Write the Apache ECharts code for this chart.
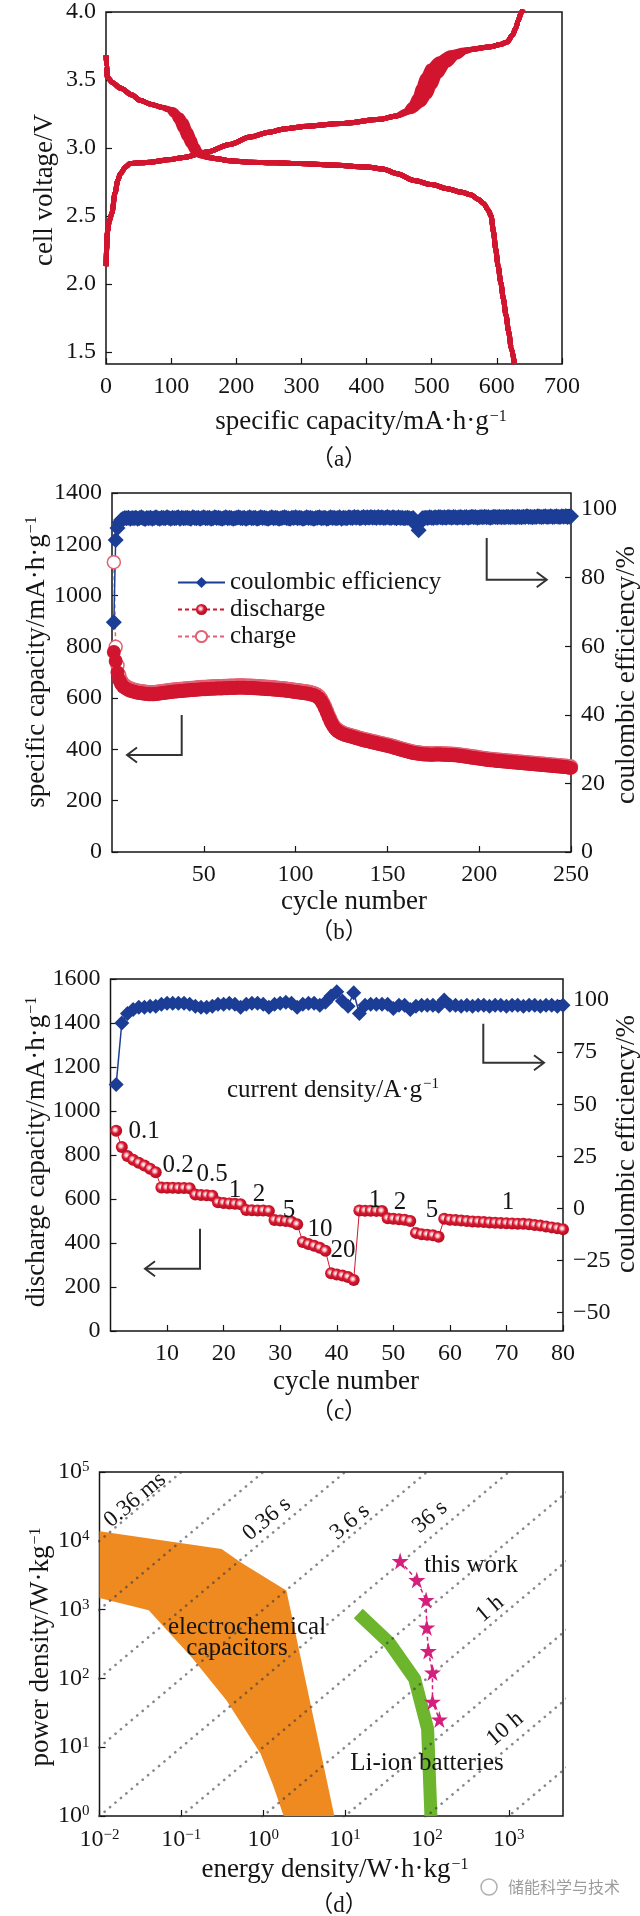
<!DOCTYPE html>
<html><head><meta charset="utf-8">
<script src="https://cdn.jsdelivr.net/npm/echarts@6/dist/echarts.min.js"></script>
<style>html,body{margin:0;padding:0;background:#fff}#c{width:640px;height:1916px}</style>
</head><body><div id="c"></div><script>
// ---------- (a) charge/discharge profiles: [capacity mAh/g, voltage V] ----------
const dchHead = [[0,3.68],[1,3.6],[2,3.52],[10,3.48],[22,3.44],[40,3.39],[52,3.35],[70,3.32],[85,3.30]];
const dchBandA = [[95,3.28],[103,3.24],[108,3.2],[115,3.13],[121,3.07],[127,3.02],[133,2.975],[142,2.945],[155,2.93]];
const dchBandAB = [[96.5,3.28],[105,3.24],[110.5,3.2],[117.5,3.13],[123.5,3.07],[129,3.02],[135,2.975],[143.5,2.945],[156,2.93]];
const dchBandB = [[98,3.28],[107,3.24],[113,3.2],[120,3.13],[126,3.07],[131,3.02],[137,2.975],[145,2.945],[157,2.93]];
const dchBandBC = [[99.5,3.28],[109,3.24],[115,3.2],[122,3.13],[128,3.07],[133,3.02],[139,2.975],[146.5,2.945],[158,2.93]];
const dchBandC = [[101,3.28],[111,3.24],[117,3.2],[124,3.13],[130,3.07],[135,3.02],[141,2.975],[148,2.945],[159,2.93]];
const dchBandCD = [[102.5,3.28],[113,3.24],[119.5,3.2],[126.5,3.13],[132.5,3.07],[137,3.02],[143,2.975],[149.5,2.947],[160,2.931]];
const dchBandD = [[104,3.28],[115,3.24],[122,3.2],[129,3.13],[135,3.07],[139,3.02],[145,2.975],[151,2.95],[161,2.932]];
const dchTail = [[170,2.92],[190,2.905],[221,2.895],[260,2.89],[298,2.885],[345,2.875],[400,2.86],[425,2.845],[447,2.81],[473,2.76],[500,2.73],[524,2.70],[545,2.675],[560,2.655],[572,2.62],[580,2.59],[587,2.54],[591,2.50],[595,2.38],[598,2.26],[602,2.13],[606,2.01],[610,1.89],[614,1.77],[618,1.65],[622,1.53],[627,1.41]];
const chgHead = [[0,2.13],[1,2.25],[2,2.38],[5,2.46],[9,2.52],[14,2.67],[18,2.76],[22,2.81],[30,2.86],[37,2.885],[68,2.895],[100,2.915],[119,2.93],[155,2.97],[190,3.025],[221,3.08],[250,3.115],[273,3.14],[310,3.16],[360,3.18],[421,3.21],[445,3.235]];
const chgBandA = [[459,3.27],[468,3.32],[475,3.38],[480,3.45],[487,3.53],[496,3.60],[510,3.655],[528,3.70],[550,3.72]];
const chgBandAB = [[461,3.27],[471,3.32],[478.5,3.38],[484,3.45],[491.5,3.53],[501.5,3.603],[516,3.657],[533,3.70],[552.5,3.721]];
const chgBandB = [[463,3.27],[474,3.32],[482,3.38],[488,3.45],[496,3.53],[507,3.605],[522,3.66],[538,3.70],[555,3.722]];
const chgBandBC = [[465,3.27],[477,3.32],[485.5,3.38],[492,3.45],[500,3.53],[511.5,3.607],[526.5,3.662],[542,3.702],[557.5,3.723]];
const chgBandC = [[467,3.27],[480,3.32],[489,3.38],[496,3.45],[504,3.53],[516,3.61],[531,3.665],[546,3.705],[560,3.725]];
const chgBandCD = [[469,3.27],[483,3.32],[492.5,3.38],[500,3.45],[508,3.53],[520.5,3.61],[535.5,3.667],[549.5,3.707],[562.5,3.726]];
const chgBandD = [[471,3.27],[486,3.32],[496,3.38],[504,3.45],[512,3.53],[525,3.61],[540,3.67],[553,3.71],[565,3.728]];
const chgTail = [[591,3.745],[605,3.76],[616,3.78],[624,3.83],[629,3.88],[633,3.94],[637,3.99],[640,4.02]];
const aVoltTicks = [1.5,2.0,2.5,3.0,3.5,4.0];

// ---------- (b) long cycling, values per cycle 1..250 ----------
const bDischarge = [
780,745,700,670,655,645,640,636,632,629, 627,625,623,621,620,619,618,617,616,615,
615,615,615,616,617,618,619,620,621,622, 623,624,625,626,626,627,628,628,629,630,
630,631,632,632,633,633,634,634,635,635, 635,636,636,637,637,637,638,638,638,638,
639,639,639,640,640,640,640,641,641,641, 641,641,640,640,640,640,639,639,638,638,
637,637,636,636,635,635,634,634,633,633, 632,631,631,630,629,628,627,626,625,624,
623,622,621,620,619,618,617,615,613,611, 608,604,598,588,575,560,543,526,510,496,
485,477,471,466,462,459,456,454,452,450, 448,446,444,442,440,438,436,434,433,431,
429,427,426,424,422,420,419,417,415,414, 412,410,408,406,404,402,400,398,396,394,
392,390,388,386,385,384,383,382,381,380, 380,380,379,379,379,380,380,380,380,379,
379,379,378,378,378,377,377,376,375,374, 373,372,371,370,369,368,367,366,365,364,
363,362,361,360,359,358,358,357,356,355, 355,354,353,353,352,351,351,350,349,349,
348,347,347,346,345,345,344,343,343,342, 341,341,340,339,339,338,337,337,336,335,
335,334,333,333,332,331,331,330,329,328];
const bCharge = [
1130,800,728,690,668,656,650,645,641,638, 635,633,631,629,628,627,626,625,624,623,
623,623,623,624,625,626,627,628,629,630, 631,632,633,634,634,635,636,636,637,638,
638,639,640,640,641,641,642,642,643,643, 643,644,644,645,645,645,646,646,646,646,
647,647,647,648,648,648,648,649,649,649, 649,649,648,648,648,648,647,647,646,646,
645,645,644,644,643,643,642,642,641,641, 640,639,639,638,637,636,635,634,633,632,
631,630,629,628,627,626,625,623,621,619, 616,612,606,596,583,568,551,534,518,503,
491,483,477,472,468,464,461,459,457,455, 453,451,449,447,445,443,441,439,438,436,
434,432,431,429,427,425,424,422,420,419, 417,415,413,411,409,407,405,403,401,399,
397,395,393,391,390,389,388,387,386,385, 385,385,384,384,384,385,385,385,385,384,
384,384,383,383,383,382,382,381,380,379, 378,377,376,375,374,373,372,371,370,369,
368,367,366,365,364,363,363,362,361,360, 360,359,358,358,357,356,356,355,354,354,
353,352,352,351,350,350,349,348,348,347, 346,346,345,344,344,343,342,342,341,340,
340,339,338,338,337,336,336,335,334,333];
const bCE = [
67,91,94.5,96,96.8,97.2,97.4,97.3,97.5,97.2, 97.4,97.3,97.5,97.2,97.4,97.6,97.3,97.1,97.4,97.3,
97.5,97.2,97.4,97.6,97.3,97.2,97.5,97.4,97.3,97.6, 97.4,97.2,97.5,97.3,97.4,97.6,97.2,97.5,97.3,97.4,
97.5,97.3,97.2,97.6,97.4,97.3,97.5,97.2,97.4,97.6, 97.3,97.4,97.5,97.2,97.3,97.6,97.4,97.5,97.3,97.2,
97.4,97.6,97.3,97.5,97.4,97.2,97.3,97.5,97.6,97.4, 97.3,97.5,97.2,97.4,97.6,97.3,97.4,97.5,97.2,97.3,
97.6,97.4,97.5,97.3,97.2,97.4,97.6,97.3,97.5,97.4, 97.2,97.3,97.5,97.6,97.4,97.3,97.2,97.5,97.4,97.6,
97.3,97.5,97.4,97.2,97.3,97.6,97.4,97.5,97.3,97.2, 97.4,97.5,97.6,97.3,97.4,97.5,97.2,97.3,97.6,97.4,
97.5,97.3,97.4,97.6,97.2,97.5,97.4,97.3,97.6,97.5, 97.4,97.7,97.5,97.6,97.3,97.5,97.7,97.4,97.6,97.5,
97.7,97.5,97.6,97.4,97.7,97.5,97.6,97.4,97.5,97.7, 97.5,97.4,97.6,97.5,97.3,97.6,97.4,97.5,97.3,97.4,
97.5,97.3,97.2,97.4,96.5,95.2,93.8,96.2,97.3,97.4, 97.5,97.4,97.6,97.5,97.4,97.6,97.5,97.7,97.6,97.5,
97.6,97.5,97.7,97.6,97.5,97.7,97.6,97.5,97.6,97.7, 97.5,97.6,97.7,97.5,97.6,97.8,97.6,97.7,97.5,97.6,
97.7,97.6,97.8,97.6,97.7,97.5,97.6,97.8,97.7,97.6, 97.8,97.6,97.7,97.6,97.8,97.7,97.6,97.8,97.7,97.6,
97.8,97.7,97.6,97.8,97.7,97.9,97.7,97.8,97.6,97.8, 97.7,97.9,97.8,97.7,97.8,97.9,97.7,97.8,97.9,97.7,
97.8,97.9,97.8,97.7,97.9,97.8,97.9,97.7,97.8,97.9];

// ---------- (c) rate test, cycles 1..80 ----------
const cDischarge = [
910,836,795,778,765,752,738,722,
652,651,651,650,650,649,
620,618,617,615,
585,582,580,578,576,
550,549,548,548,546,
505,502,500,497,485,
405,395,387,378,365,
262,257,252,245,232,
548,547,547,546,545,
512,510,508,506,500,
446,440,438,435,428,
510,506,504,502,500,498,497,495,493,492,491,490,489,488,487,485,482,479,475,471,467,462];
const cCE = [
59.5,89,93.5,95.5,96.5,96.5,97,97,98,98.5,
98.5,98.5,98.5,98,97,96.5,96.5,97,98,98,
98.5,98,96.5,98,98.5,98.5,98,96.5,98,98.5,
99,98.5,96.5,98,98.5,98.5,97.5,99,102,104,
99.5,97,103.5,93.5,97.5,98,98,98,98,96,
97.5,97.5,95.5,97,97.5,97.5,97.5,97,100,97.5,
97.5,97,97.5,97,97.5,97.5,97,97.5,97.5,97,
97.5,97.5,97,97.5,97.5,97,97.5,97.5,97,97.5];
const cRateLabels = [['0.1',144,1131],['0.2',178,1165],['0.5',212,1174],['1',235,1190],['2',259,1194],['5',289,1210],['10',320,1229],['20',343,1250],['1',375,1200],['2',400,1202],['5',432,1210],['1',508,1202]];

// ---------- (d) Ragone plot: [energy Wh/kg, power W/kg] ----------
const capRegion = [[0.01,13800],[0.31,7600],[0.54,4800],[1.92,1900],[7.4,1],[1.78,1],[1.32,2.8],[0.93,8],[0.355,48],[0.135,200],[0.04,980],[0.01,1480]];
const liIonBand = [[14.5,880],[34.7,330],[71,98],[102,18.4],[112,1]];
const thisWork = [[47.1,5080],[75.2,2690],[97.7,1380],[99.6,550],[104,251],[117,122],[117,46],[142,25.3]];
const timeLinesHours = [1e-6,1e-5,1e-4,1e-3,1e-2,1e-1,1,10,100,1000];
const timeLabels = [['0.36 ms',135,1500],['0.36 s',267,1519],['3.6 s',350,1522],['36 s',430,1517],['1 h',490,1609],['10 h',505,1729]];

// ---------- styling ----------
const SERIF = '"Liberation Serif","Times New Roman",serif';
const CAPF = '"Liberation Serif","Noto Sans CJK SC",serif';
const INK = '#151515';
const RED = '#d2152f';
const BLUE = '#1c3d96';
const TICKF = 24, TITLEF = 27, NOTEF = 25;
const ball = {type:'radial',x:0.42,y:0.42,r:0.6,colorStops:[{offset:0,color:'#ffffff'},{offset:0.22,color:'#f6b9c1'},{offset:0.5,color:'#d8182f'},{offset:1,color:'#b00b20'}]};

function tickStyle(extra){return Object.assign({inside:true,length:6,lineStyle:{color:INK,width:1.2}},extra||{});}
function labStyle(extra){return Object.assign({fontFamily:SERIF,fontSize:TICKF,color:INK,margin:10},extra||{});}
function minus(v){return String(v).replace('-','\u2212');}
function plain(v){return String(v);}
function powLabel(v){const e=Math.round(Math.log10(v));return '{b|10}{e|'+minus(e)+'}';}
const powRich = {b:{fontFamily:SERIF,fontSize:TICKF,color:INK},e:{fontFamily:SERIF,fontSize:15,color:INK,verticalAlign:'top',padding:[0,0,9,0]}};

const grids = [
  {left:106,top:10,width:456,height:354},
  {left:112,top:493,width:459,height:359},
  {left:110.5,top:979,width:452.5,height:352},
  {left:99.5,top:1472,width:463.5,height:344}
].map(g=>Object.assign(g,{show:true,borderColor:INK,borderWidth:1.5,backgroundColor:'transparent'}));

const xAxes = [
  {gridIndex:0,type:'value',min:0,max:700,interval:100,axisLine:{show:false},splitLine:{show:false},axisTick:tickStyle(),axisLabel:labStyle({margin:11,formatter:plain})},
  {gridIndex:1,type:'value',min:0,max:250,interval:50,axisLine:{show:false},splitLine:{show:false},axisTick:tickStyle(),axisLabel:labStyle({margin:11,showMinLabel:false,formatter:plain})},
  {gridIndex:2,type:'value',min:0,max:80,interval:10,axisLine:{show:false},splitLine:{show:false},axisTick:tickStyle(),axisLabel:labStyle({margin:11,showMinLabel:false,formatter:plain})},
  {gridIndex:3,type:'log',logBase:10,min:0.01,max:4600,axisLine:{show:false},splitLine:{show:false},axisTick:tickStyle(),axisLabel:labStyle({margin:12,formatter:powLabel,rich:powRich,showMaxLabel:false})}
];
const yAxes = [
  {gridIndex:0,type:'value',min:1.41,max:4.0,axisLine:{show:false},splitLine:{show:false},axisTick:tickStyle({customValues:aVoltTicks}),axisLabel:labStyle({customValues:aVoltTicks,formatter:v=>v.toFixed(1)})},
  {gridIndex:1,type:'value',min:0,max:1400,interval:200,axisLine:{show:false},splitLine:{show:false},axisTick:tickStyle(),axisLabel:labStyle({formatter:plain})},
  {gridIndex:1,type:'value',position:'right',min:0,max:104.7,interval:20,axisLine:{show:false},splitLine:{show:false},axisTick:tickStyle(),axisLabel:labStyle({showMaxLabel:false,formatter:plain})},
  {gridIndex:2,type:'value',min:0,max:1600,interval:200,axisLine:{show:false},splitLine:{show:false},axisTick:tickStyle(),axisLabel:labStyle({formatter:plain})},
  {gridIndex:2,type:'value',position:'right',min:-58.8,max:110.1,axisLine:{show:false},splitLine:{show:false},axisTick:tickStyle({customValues:[-50,-25,0,25,50,75,100]}),axisLabel:labStyle({customValues:[-50,-25,0,25,50,75,100],formatter:v=>minus(v)})},
  {gridIndex:3,type:'log',logBase:10,min:1,max:1e5,axisLine:{show:false},splitLine:{show:false},axisTick:tickStyle(),axisLabel:labStyle({formatter:powLabel,rich:powRich})}
];

const series = [];
// (a)
[dchBandA,dchBandAB,dchBandB,dchBandBC,dchBandC,dchBandCD,dchBandD].forEach(b=>series.push({type:'line',xAxisIndex:0,yAxisIndex:0,data:dchHead.concat(b,dchTail),showSymbol:false,smooth:0.3,smoothMonotone:'x',silent:true,lineStyle:{width:5,color:RED}}));
[chgBandA,chgBandAB,chgBandB,chgBandBC,chgBandC,chgBandCD,chgBandD].forEach(b=>series.push({type:'line',xAxisIndex:0,yAxisIndex:0,data:chgHead.concat(b,chgTail),showSymbol:false,smooth:0.3,smoothMonotone:'x',silent:true,lineStyle:{width:5,color:RED}}));
// (b)
series.push({name:'charge',type:'line',xAxisIndex:1,yAxisIndex:1,data:bCharge.map((v,i)=>[i+1,v]),symbol:'circle',symbolSize:13,itemStyle:{color:'#fff',borderColor:'#e06274',borderWidth:1.5},lineStyle:{color:'#e06274',width:1.5,type:[4,3]}});
series.push({name:'discharge',type:'line',xAxisIndex:1,yAxisIndex:1,data:bDischarge.map((v,i)=>[i+1,v]),symbol:'circle',symbolSize:14,itemStyle:{color:RED},lineStyle:{color:RED,width:1.5,type:[4,3]}});
series.push({name:'coulombic efficiency',type:'line',xAxisIndex:1,yAxisIndex:2,data:bCE.map((v,i)=>[i+1,v]),symbol:'diamond',symbolSize:16,itemStyle:{color:BLUE},lineStyle:{color:BLUE,width:1.5}});
// (c)
series.push({type:'line',xAxisIndex:2,yAxisIndex:3,data:cDischarge.map((v,i)=>[i+1,v]),symbol:'circle',symbolSize:12,itemStyle:{color:ball},lineStyle:{color:RED,width:1}});
series.push({type:'line',xAxisIndex:2,yAxisIndex:4,data:cCE.map((v,i)=>[i+1,v]),symbol:'diamond',symbolSize:15,itemStyle:{color:BLUE},lineStyle:{color:BLUE,width:1.5}});
// (d)
series.push({type:'custom',xAxisIndex:3,yAxisIndex:5,data:capRegion,silent:true,renderItem:(p,api)=>{
  if(p.dataIndex!==0) return null;
  return {type:'polygon',shape:{points:capRegion.map(v=>api.coord(v))},style:{fill:'#ee8a1f'}};
}});
series.push({type:'line',xAxisIndex:3,yAxisIndex:5,data:liIonBand,showSymbol:false,silent:true,lineStyle:{width:13,color:'#6cb52d',cap:'butt',join:'round'}});
timeLinesHours.forEach(t=>series.push({type:'line',xAxisIndex:3,yAxisIndex:5,data:[[1e-3,1e-3/t],[1e5,1e5/t]],showSymbol:false,silent:true,clip:true,lineStyle:{width:2.6,color:'rgba(55,55,65,0.6)',type:[0.1,7],cap:'round'}}));
series.push({type:'line',xAxisIndex:3,yAxisIndex:5,data:thisWork,symbol:'path://M50,0 L61,35 L98,35 L68,57 L79,91 L50,70 L21,91 L32,57 L2,35 L39,35 Z',symbolSize:17,itemStyle:{color:'#d41f7c'},lineStyle:{color:'#d41f7c',width:1.5,type:[4,3]}});

// ---------- graphic annotations ----------
const G = [];
function txt(x,y,text,size,rot,extra){G.push({type:'text',x:x,y:y,rotation:rot||0,z:100,silent:true,style:Object.assign({text:text,font:(size||NOTEF)+'px '+SERIF,fill:INK,align:'center',verticalAlign:'middle'},extra||{})});}
function rtxt(x,y,main,sup,size,rot){
  G.push({type:'text',x:x,y:y,rotation:rot||0,z:100,silent:true,style:{text:'{n|'+main+'}{s|'+sup+'}',align:'center',verticalAlign:'middle',
    rich:{n:{fontFamily:SERIF,fontSize:size,fill:INK},s:{fontFamily:SERIF,fontSize:Math.round(size*0.6),fill:INK,verticalAlign:'top',padding:[0,0,11,1]}}}});
}
function arrow(pts,head){G.push({type:'polyline',z:100,silent:true,shape:{points:pts},style:{stroke:'#333',lineWidth:2,fill:null}});G.push({type:'polyline',z:100,silent:true,shape:{points:head},style:{stroke:'#333',lineWidth:2,fill:null}});}
const R90 = Math.PI/2;
const CAPSIZE = 23;
// (a)
txt(45,190,'cell voltage/V',TITLEF,R90);
rtxt(361,422,'specific capacity/mA\u00b7h\u00b7g','\u22121',TITLEF,0);
txt(339,460,'\uff08a\uff09',CAPSIZE,0,{font:CAPSIZE+'px '+CAPF});
// (b)
rtxt(37,662,'specific capacity/mA\u00b7h\u00b7g','\u22121',TITLEF,R90);
txt(354,902,'cycle number',TITLEF);
txt(626.5,675,'coulombic efficiency/%',TITLEF,R90);
txt(339,933,'\uff08b\uff09',CAPSIZE,0,{font:CAPSIZE+'px '+CAPF});
arrow([[181.7,715],[181.7,755],[127,755]],[[137,747.5],[127,755],[137,762.5]]);
arrow([[486.7,538],[486.7,579.7],[546.7,579.7]],[[536.7,572.2],[546.7,579.7],[536.7,587.2]]);
// (c)
rtxt(37,1152,'discharge capacity/mA\u00b7h\u00b7g','\u22121',TITLEF,R90);
txt(346,1382,'cycle number',TITLEF);
txt(626.5,1144,'coulombic efficiency/%',TITLEF,R90);
txt(339,1413,'\uff08c\uff09',CAPSIZE,0,{font:CAPSIZE+'px '+CAPF});
rtxt(333,1090,'current density/A\u00b7g','\u22121',NOTEF,0);
cRateLabels.forEach(l=>txt(l[1],l[2],l[0],NOTEF));
arrow([[200,1228.7],[200,1268.7],[145,1268.7]],[[155,1261.2],[145,1268.7],[155,1276.2]]);
arrow([[483.3,1023.7],[483.3,1062.7],[544,1062.7]],[[534,1055.2],[544,1062.7],[534,1070.2]]);
// (d)
rtxt(41,1647,'power density/W\u00b7kg','\u22121',TITLEF,R90);
rtxt(335,1870,'energy density/W\u00b7h\u00b7kg','\u22121',TITLEF,0);
txt(339,1906,'\uff08d\uff09',CAPSIZE,0,{font:CAPSIZE+'px '+CAPF});
timeLabels.forEach(l=>txt(l[1],l[2],l[0],23,40*Math.PI/180));
txt(471,1565,'this work',NOTEF);
txt(247,1627,'electrochemical',NOTEF);
txt(237,1648,'capacitors',NOTEF);
txt(427,1763,'Li-ion batteries',NOTEF);
G.push({type:'circle',z:100,silent:true,shape:{cx:489,cy:1887,r:8},style:{stroke:'#b0b0b0',lineWidth:1.5,fill:null}});
txt(508,1887,'\u50a8\u80fd\u79d1\u5b66\u4e0e\u6280\u672f',16,0,{font:'16px "Noto Sans CJK SC"',fill:'#9c9c9c',align:'left'});

const chart = echarts.init(document.getElementById('c'),null,{renderer:'canvas'});
chart.setOption({
  animation:false,
  backgroundColor:'#fff',
  grid:grids, xAxis:xAxes, yAxis:yAxes, series:series,
  legend:{left:172,top:565,orient:'vertical',itemWidth:47,itemHeight:14,itemGap:2,selectedMode:false,
    textStyle:{fontFamily:SERIF,fontSize:25,color:INK,lineHeight:25},
    data:[{name:'coulombic efficiency'},{name:'discharge',itemStyle:{color:ball}},{name:'charge'}]},
  graphic:G
});
</script></body></html>
